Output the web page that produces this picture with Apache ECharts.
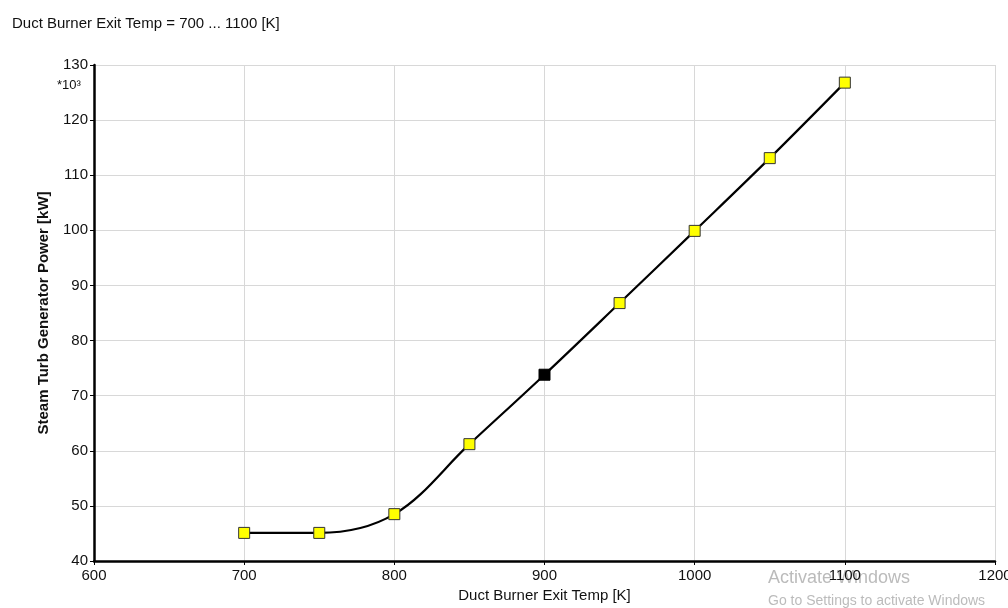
<!DOCTYPE html>
<html><head><meta charset="utf-8">
<script src="https://cdn.jsdelivr.net/npm/echarts@6/dist/echarts.min.js"></script>
<style>html,body{margin:0;padding:0;background:#fff}#c{width:1008px;height:608px}</style>
</head><body><div id="c"></div>
<script>
const temps = [700, 750, 800, 850, 900, 950, 1000, 1050, 1100];
const power = [45.1, 45.1, 48.5, 61.2, 73.8, 86.8, 99.9, 113.1, 126.8];
const highlightIndex = 4;
const titleText = 'Duct Burner Exit Temp = 700 ... 1100 [K]';
const xName = 'Duct Burner Exit Temp [K]';
const yName = 'Steam Turb Generator Power [kW]';
const font = 'Liberation Sans, Arial, sans-serif';

const chart = echarts.init(document.getElementById('c'));
chart.setOption({
  animation: false,
  backgroundColor: '#fff',
  title: { text: titleText, left: 7, top: 11, textStyle: { fontSize: 15, fontWeight: 'normal', color: '#111', fontFamily: font } },
  grid: { left: 94, right: 13, top: 65, bottom: 47, outerBoundsMode: 'none', containLabel: false },
  xAxis: {
    type: 'value', min: 600, max: 1200, interval: 100,
    name: xName, nameLocation: 'middle', nameGap: 26,
    nameTextStyle: { fontSize: 15, color: '#111', fontFamily: font },
    axisLine: { lineStyle: { color: '#000', width: 2.5 } },
    axisTick: { show: true, length: 4, lineStyle: { color: '#000' } },
    axisLabel: { fontSize: 15, color: '#111', margin: 7, fontFamily: font, formatter: v => String(v), hideOverlap: false },
    splitLine: { show: true, lineStyle: { color: '#d8d8d8', width: 1 } }
  },
  yAxis: {
    type: 'value', min: 40, max: 130, interval: 10,
    name: yName, nameLocation: 'middle', nameGap: 43,
    nameTextStyle: { fontSize: 15, fontWeight: 'bold', color: '#111', fontFamily: font },
    axisLine: { show: true, lineStyle: { color: '#000', width: 2.5 } },
    axisTick: { show: true, length: 4, lineStyle: { color: '#000' } },
    axisLabel: { fontSize: 15, color: '#111', margin: 6, fontFamily: font, formatter: v => String(v) },
    splitLine: { show: true, lineStyle: { color: '#d8d8d8', width: 1 } }
  },
  graphic: [
    { type: 'text', left: 57, top: 79, style: { text: '*10³', font: '13px ' + font, fill: '#111' } },
    { type: 'text', left: 768, top: 569, silent: true, style: { text: 'Activate Windows', font: '18px ' + font, fill: 'rgba(120,120,120,0.5)' } },
    { type: 'text', left: 768, top: 594, silent: true, style: { text: 'Go to Settings to activate Windows', font: '14px ' + font, fill: 'rgba(120,120,120,0.5)' } }
  ],
  series: [{
    type: 'line',
    smooth: 0.35,
    data: temps.map((t, i) => ({
      value: [t, power[i]],
      itemStyle: i === highlightIndex ? { color: '#000', borderColor: '#000' } : { color: '#ffff00', borderColor: '#333', borderWidth: 1 }
    })),
    symbol: 'rect', symbolSize: 11,
    showAllSymbol: true,
    lineStyle: { color: '#000', width: 2.2 },
    z: 5
  }]
});
</script></body></html>
